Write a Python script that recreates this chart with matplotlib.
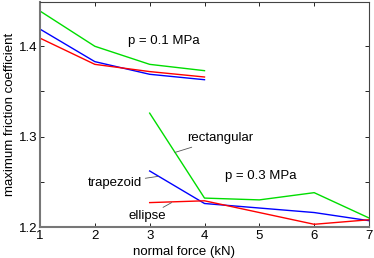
import numpy as np
import matplotlib
matplotlib.use('Agg')
import matplotlib.pyplot as plt

plt.rcParams['font.family'] = ['Liberation Sans', 'DejaVu Sans']

# p = 0.1 MPa
x_low = [1, 2, 3, 4]
rect_low = [1.439, 1.400, 1.380, 1.373]
trap_low = [1.419, 1.383, 1.369, 1.363]
ell_low = [1.409, 1.380, 1.372, 1.366]

# p = 0.3 MPa
x_high = [3, 4, 5, 6, 7]
rect_high = [1.326, 1.232, 1.230, 1.238, 1.210]
trap_high = [1.262, 1.226, 1.221, 1.216, 1.207]
ell_high = [1.227, 1.229, 1.216, 1.203, 1.208]

fig = plt.figure(figsize=(3.74, 2.58), dpi=100)
ax = fig.add_axes([40/374, 1 - 227/258, 329/374, 225/258])

for xs, ys, c in [(x_low, rect_low, '#00dd00'), (x_low, trap_low, 'blue'), (x_low, ell_low, 'red'),
                  (x_high, rect_high, '#00dd00'), (x_high, trap_high, 'blue'), (x_high, ell_high, 'red')]:
    ax.plot(xs, ys, color=c, lw=1.0)

ax.set_xlim(1, 7)
ax.set_ylim(1.2, 1.449)
ax.set_xticks(range(1, 8))
ax.set_yticks([1.2, 1.25, 1.3, 1.35, 1.4])
ax.set_yticklabels(['1.2', '', '1.3', '', '1.4'])
ax.tick_params(direction='in', top=True, right=True, labelsize=9.5, length=3, width=0.6, pad=2)
for s in ax.spines.values():
    s.set_linewidth(0.8)
    s.set_color('#444444')
ax.spines['bottom'].set_linewidth(1.5)
ax.spines['bottom'].set_color('#777777')
ax.spines['left'].set_linewidth(1.5)
ax.spines['left'].set_color('#777777')

ax.set_xlabel('normal force (kN)', fontsize=9.5, labelpad=1)
ax.xaxis.set_label_coords((184 - 40) / 329, -0.085)
ax.set_ylabel('maximum friction coefficient', fontsize=9.5, labelpad=2)

ax.text(2.6, 1.403, 'p = 0.1 MPa', fontsize=9.5)
ax.text(4.38, 1.253, 'p = 0.3 MPa', fontsize=9.5)
line_kw = dict(arrowstyle='-', color='#555555', lw=0.6, shrinkA=0, shrinkB=0)
ax.annotate('rectangular', xy=(3.46, 1.2825), xytext=(3.68, 1.298), fontsize=9.5,
            va='center', arrowprops=line_kw)
ax.annotate('trapezoid', xy=(3.15, 1.256), xytext=(2.87, 1.249), fontsize=9.5,
            va='center', ha='right', arrowprops=line_kw)
ax.annotate('ellipse', xy=(3.4, 1.227), xytext=(3.3, 1.212), fontsize=9.5,
            va='center', ha='right', arrowprops=line_kw)

fig.savefig('out.png', dpi=100)
